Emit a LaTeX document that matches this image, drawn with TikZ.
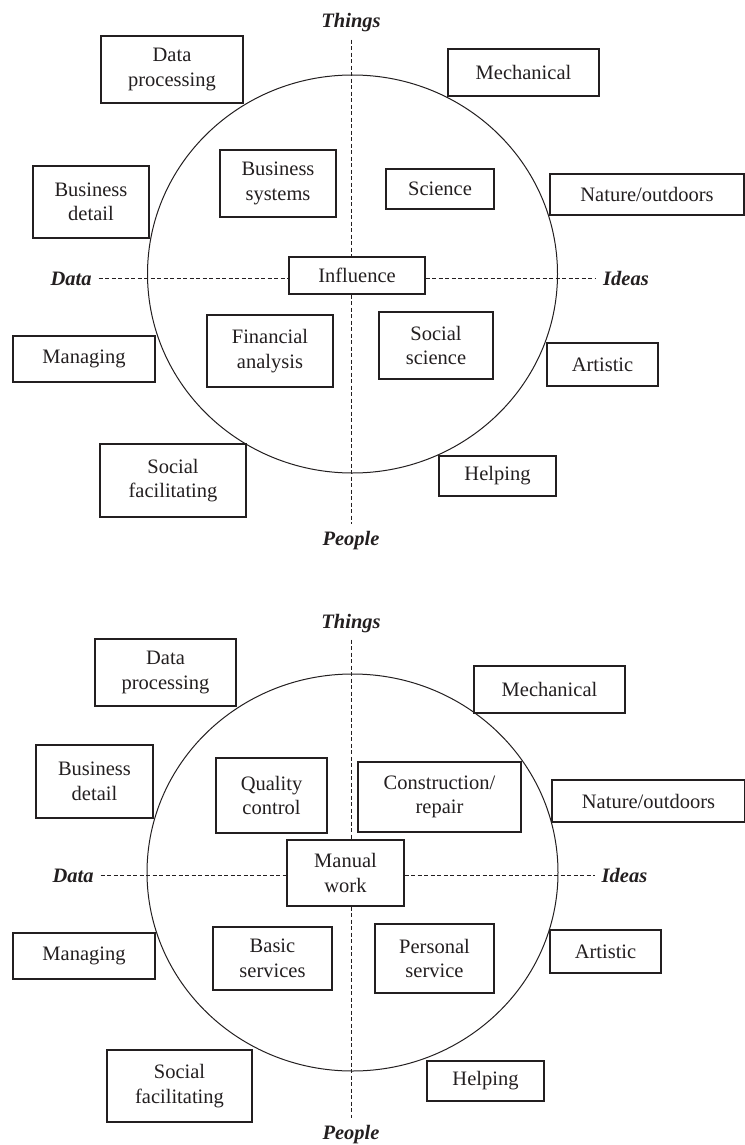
\documentclass[tikz,border=0pt]{standalone}
\usepackage{fontspec}
\setmainfont{Liberation Serif}
\usetikzlibrary{positioning}
\definecolor{ink}{RGB}{35,31,32}

\begin{document}
\begin{tikzpicture}[x=1pt,y=-1pt,
 box/.style={draw=ink,line width=1.2pt,fill=white,align=center,inner sep=2pt,text=ink,font=\fontsize{20.5}{24.5}\selectfont},
 boxsize/.style 2 args={minimum width=#1pt,minimum height=#2pt},
 axlabel/.style={anchor=base,inner sep=7pt,text=ink,font=\fontsize{20.5}{24.5}\selectfont\bfseries\itshape},
 axis/.style={draw=ink,line width=.9pt,dash pattern=on 4pt off 2.5pt},
 ring/.style={draw=ink,line width=1pt}]
\useasboundingbox (0,0) rectangle (744,1145);

% upper wheel
\draw[ring] (352.5,274) ellipse [x radius=205,y radius=199];
\node[axlabel] (things1) at (351,28) {Things};
\node[axlabel] (people1) at (351,545) {People};
\node[axlabel] (data1) at (71,285) {Data};
\node[axlabel] (ideas1) at (626,285) {Ideas};
\node[box,boxsize={136}{37}] (inf1) at (357,275.5) {Influence};
\draw[axis] (things1) -- (things1 |- inf1.north); \draw[axis] (things1 |- inf1.south) -- (people1);
\draw[axis] (data1) -- (inf1.west |- data1); \draw[axis] (inf1.east |- ideas1) -- (ideas1);
\node[box,boxsize={142}{67}] (dp1) at (172,69.5) {Data\\processing};
\node[box,boxsize={116}{72}] (bd1) at (91,202) {Business\\detail};
\node[box,boxsize={116}{67}] (bs1) at (278,183.5) {Business\\systems};
\node[box,boxsize={151}{47}] (mech1) at (523.5,72.5) {Mechanical};
\node[box,boxsize={108}{40}] (sci1) at (440,189) {Science};
\node[box,boxsize={194}{41}] (nat1) at (647,194.5) {Nature/outdoors};
\node[box,boxsize={142}{46}] (man1) at (84,359) {Managing};
\node[box,boxsize={126}{72}] (fin1) at (270,351) {Financial\\analysis};
\node[box,boxsize={114}{67}] (ss1) at (436,345.5) {Social\\science};
\node[box,boxsize={111}{43}] (art1) at (602.5,364.5) {Artistic};
\node[box,boxsize={146}{73}] (sf1) at (173,480.5) {Social\\facilitating};
\node[box,boxsize={117}{40}] (help1) at (497.5,476) {Helping};

% lower wheel
\draw[ring] (352.5,872.5) ellipse [x radius=205.5,y radius=198.5];
\node[axlabel] (things2) at (351,628) {Things};
\node[axlabel] (people2) at (351,1139) {People};
\node[axlabel] (data2) at (73,882) {Data};
\node[axlabel] (ideas2) at (624.5,882) {Ideas};
\node[box,boxsize={117}{66}] (mw2) at (345.5,873) {Manual\\work};
\draw[axis] (things2) -- (things2 |- mw2.north); \draw[axis] (things2 |- mw2.south) -- (people2);
\draw[axis] (data2) -- (mw2.west |- data2); \draw[axis] (mw2.east |- ideas2) -- (ideas2);
\node[box,boxsize={141}{67}] (dp2) at (165.5,672.5) {Data\\processing};
\node[box,boxsize={117}{73}] (bd2) at (94.5,781.5) {Business\\detail};
\node[box,boxsize={111}{75}] (qc2) at (271.5,795.5) {Quality\\control};
\node[box,boxsize={163}{70}] (cr2) at (439.5,797) {Construction/\\repair};
\node[box,boxsize={151}{47}] (mech2) at (549.5,689.5) {Mechanical};
\node[box,boxsize={193}{42}] (nat2) at (648.5,801) {Nature/outdoors};
\node[box,boxsize={142}{46}] (man2) at (84,956) {Managing};
\node[box,boxsize={119}{63}] (bsv2) at (272.5,958.5) {Basic\\services};
\node[box,boxsize={119}{69}] (ps2) at (434.5,958.5) {Personal\\service};
\node[box,boxsize={111}{43}] (art2) at (605.5,951.5) {Artistic};
\node[box,boxsize={145}{72}] (sf2) at (179.5,1086) {Social\\facilitating};
\node[box,boxsize={117}{40}] (help2) at (485.5,1081) {Helping};
\end{tikzpicture}
\end{document}
